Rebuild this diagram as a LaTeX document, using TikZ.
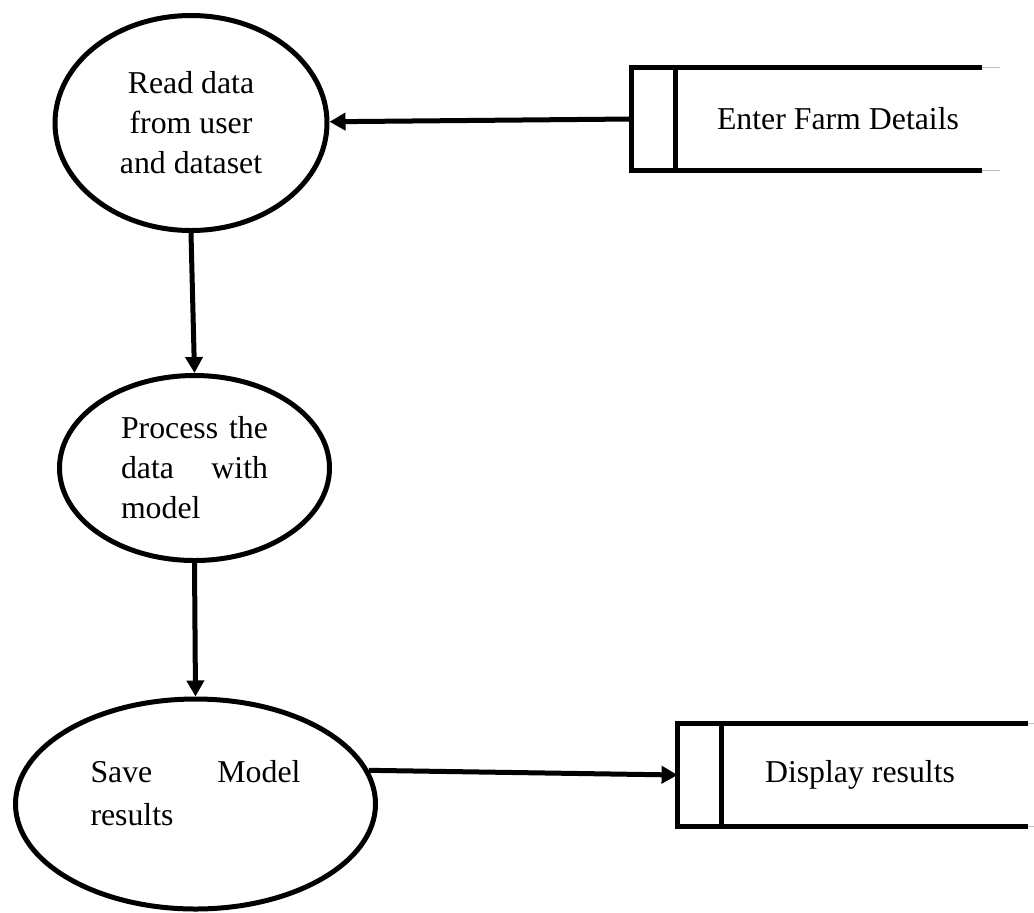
\documentclass[tikz,border=0pt]{standalone}
\usepackage{fontspec}
\setmainfont{Liberation Serif}
\usetikzlibrary{arrows.meta, shapes.geometric}

\begin{document}
\begin{tikzpicture}[x=0.5pt, y=-0.5pt,
    bubble/.style={ellipse, draw, line width=2.5pt, inner sep=0pt,
      font=\fontsize{15.9}{20}\selectfont},
    store/.style={rectangle, inner sep=0pt, minimum height=51pt,
      font=\fontsize{15.9}{20}\selectfont},
    flow/.style={line width=2.5pt, -{Triangle[length=8pt, width=8.5pt]}},
    wall/.style={line width=2.7pt},
    fade/.style={line width=0.6pt, black!25}]
  \useasboundingbox (0,0) rectangle (1034,912);

  % Define the processes
  \node[bubble, minimum width=136pt, minimum height=107.5pt, align=center]
    (read) at (191,123) {Read data\\from user\\and dataset};
  \node[bubble, minimum width=135pt, minimum height=92.5pt, text width=73.5pt, align=left]
    (process) at (194.5,468) {Process\hfill the\\data\hfill with\\model};
  \node[bubble, minimum width=180pt, minimum height=105pt, text width=105pt, align=left,
    font=\fontsize{15.9}{21.5}\selectfont]
    (save) at (195.5,804) {Save\hfill Model\\results\\[-10pt]\mbox{}};

  % Define the data stores
  \node[store, minimum width=162pt] (farm) at (838,119) {Enter Farm Details};
  \node[store, minimum width=138pt] (display) at (860,775) {Display results};

  % Draw the data stores
  \draw[wall] ([xshift=-9pt]farm.north east) -- ([xshift=-22pt]farm.north west)
    -- ([xshift=-22pt]farm.south west) -- ([xshift=-9pt]farm.south east);
  \draw[wall] (farm.north west) -- (farm.south west);
  \draw[fade] ([xshift=-9pt]farm.north east) -- (farm.north east);
  \draw[fade] ([xshift=-9pt]farm.south east) -- (farm.south east);

  \draw[wall] ([xshift=15pt]display.north east) -- ([xshift=-22pt]display.north west)
    -- ([xshift=-22pt]display.south west) -- ([xshift=15pt]display.south east);
  \draw[wall] (display.north west) -- (display.south west);
  \draw[fade] ([xshift=15pt]display.north east) -- ([xshift=18pt]display.north east);
  \draw[fade] ([xshift=15pt]display.south east) -- ([xshift=18pt]display.south east);

  % Draw the data flows
  \draw[flow] ([xshift=-22pt]farm.west) -- (read);
  \draw[flow] (read.south) -- (process.north);
  \draw[flow] (process.south) -- (save.north);
  \draw[flow] (save.11) -- ([xshift=-22pt]display.west);
\end{tikzpicture}
\end{document}
